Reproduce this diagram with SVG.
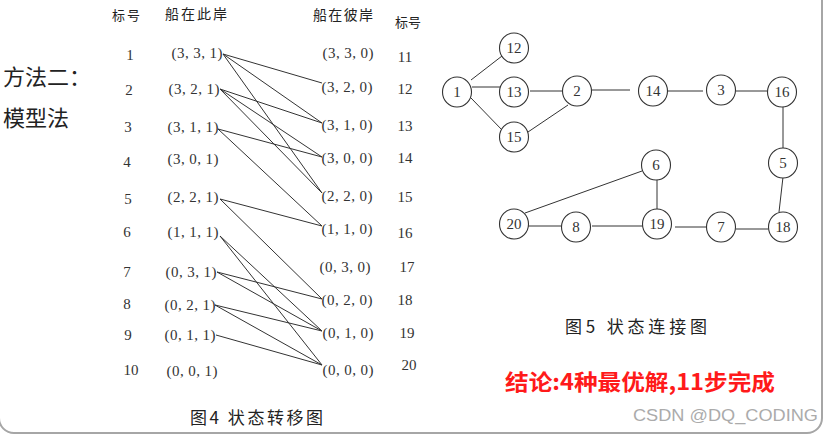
<svg xmlns="http://www.w3.org/2000/svg" width="834" height="436" viewBox="0 0 834 436">
<style>
.cj{font-family:"Noto Sans CJK SC","Noto Sans",sans-serif;fill:#222}
.num{font-family:"Liberation Serif","DejaVu Serif",serif;font-size:15px;fill:#333;text-anchor:middle}
.st{font-family:"Liberation Serif","DejaVu Serif",serif;font-size:15px;fill:#333;text-anchor:middle}
.ln{stroke:#333;stroke-width:1;fill:none}
.nd{fill:#fff;stroke:#333;stroke-width:1.1}
.nt{font-family:"Liberation Serif","DejaVu Serif",serif;font-size:15px;fill:#333;text-anchor:middle}
</style>
<rect x="0" y="0" width="834" height="436" fill="#fff"/>
<rect x="-1" y="-30" width="823" height="463" rx="15" ry="15" fill="none" stroke="#a6a6a6" stroke-width="2"/>

<g id="left-title">
<text class="cj" x="3" y="85" font-size="22">方法二：</text>
<text class="cj" x="3" y="126" font-size="22">模型法</text>
</g>

<g id="table-headers">
<text class="cj" x="112" y="20" font-size="13" textLength="28" lengthAdjust="spacing">标号</text>
<text class="cj" x="165" y="19" font-size="14" textLength="62" lengthAdjust="spacing">船在此岸</text>
<text class="cj" x="313" y="20" font-size="14" textLength="60" lengthAdjust="spacing">船在彼岸</text>
<text class="cj" x="395" y="27" font-size="13" textLength="26" lengthAdjust="spacing">标号</text>
</g>

<g id="left-labels">
<text class="num" x="130" y="60">1</text>
<text class="num" x="129" y="95">2</text>
<text class="num" x="128" y="132">3</text>
<text class="num" x="127" y="167">4</text>
<text class="num" x="128" y="204">5</text>
<text class="num" x="127" y="237">6</text>
<text class="num" x="127" y="277">7</text>
<text class="num" x="127" y="309">8</text>
<text class="num" x="128" y="340">9</text>
<text class="num" x="131" y="375">10</text>
</g>

<g id="left-states">
<text class="st" x="197" y="58" textLength="51" lengthAdjust="spacing">(3, 3, 1)</text>
<text class="st" x="194" y="94" textLength="51" lengthAdjust="spacing">(3, 2, 1)</text>
<text class="st" x="193" y="132" textLength="51" lengthAdjust="spacing">(3, 1, 1)</text>
<text class="st" x="193" y="164" textLength="51" lengthAdjust="spacing">(3, 0, 1)</text>
<text class="st" x="193" y="202" textLength="51" lengthAdjust="spacing">(2, 2, 1)</text>
<text class="st" x="193" y="237" textLength="51" lengthAdjust="spacing">(1, 1, 1)</text>
<text class="st" x="191" y="277" textLength="51" lengthAdjust="spacing">(0, 3, 1)</text>
<text class="st" x="190" y="310" textLength="51" lengthAdjust="spacing">(0, 2, 1)</text>
<text class="st" x="190" y="340" textLength="51" lengthAdjust="spacing">(0, 1, 1)</text>
<text class="st" x="192" y="376" textLength="51" lengthAdjust="spacing">(0, 0, 1)</text>
</g>

<g id="right-states">
<text class="st" x="348" y="58" textLength="51" lengthAdjust="spacing">(3, 3, 0)</text>
<text class="st" x="347" y="92" textLength="51" lengthAdjust="spacing">(3, 2, 0)</text>
<text class="st" x="347" y="130" textLength="51" lengthAdjust="spacing">(3, 1, 0)</text>
<text class="st" x="347" y="163" textLength="51" lengthAdjust="spacing">(3, 0, 0)</text>
<text class="st" x="347" y="201" textLength="51" lengthAdjust="spacing">(2, 2, 0)</text>
<text class="st" x="347" y="234" textLength="51" lengthAdjust="spacing">(1, 1, 0)</text>
<text class="st" x="345" y="272" textLength="51" lengthAdjust="spacing">(0, 3, 0)</text>
<text class="st" x="347" y="305" textLength="51" lengthAdjust="spacing">(0, 2, 0)</text>
<text class="st" x="348" y="338" textLength="51" lengthAdjust="spacing">(0, 1, 0)</text>
<text class="st" x="348" y="375" textLength="51" lengthAdjust="spacing">(0, 0, 0)</text>
</g>

<g id="right-labels">
<text class="num" x="405" y="62">11</text>
<text class="num" x="405" y="94">12</text>
<text class="num" x="405" y="131">13</text>
<text class="num" x="405" y="163">14</text>
<text class="num" x="405" y="202">15</text>
<text class="num" x="405" y="238">16</text>
<text class="num" x="407" y="272">17</text>
<text class="num" x="405" y="305">18</text>
<text class="num" x="407" y="338">19</text>
<text class="num" x="409" y="370">20</text>
</g>

<g id="transition-connectors">
<line class="ln" x1="223" y1="54" x2="322" y2="83"/>
<line class="ln" x1="223" y1="54" x2="322" y2="123"/>
<line class="ln" x1="223" y1="54" x2="322" y2="193"/>
<line class="ln" x1="220" y1="89" x2="322" y2="123"/>
<line class="ln" x1="220" y1="89" x2="322" y2="157"/>
<line class="ln" x1="220" y1="89" x2="322" y2="193"/>
<line class="ln" x1="218" y1="129" x2="322" y2="157"/>
<line class="ln" x1="218" y1="129" x2="322" y2="226"/>
<line class="ln" x1="220" y1="199" x2="322" y2="226"/>
<line class="ln" x1="220" y1="199" x2="322" y2="299"/>
<line class="ln" x1="220" y1="236" x2="322" y2="331"/>
<line class="ln" x1="220" y1="236" x2="322" y2="365"/>
<line class="ln" x1="217" y1="272" x2="322" y2="299"/>
<line class="ln" x1="217" y1="272" x2="322" y2="331"/>
<line class="ln" x1="215" y1="305" x2="322" y2="331"/>
<line class="ln" x1="215" y1="305" x2="322" y2="365"/>
<line class="ln" x1="216" y1="335" x2="322" y2="365"/>
</g>

<g id="fig4-caption">
<text class="cj" x="190" y="424" font-size="17" textLength="133" lengthAdjust="spacing" fill="#333">图4 状态转移图</text>
</g>

<g id="graph-connectors">
<line class="ln" x1="471" y1="80" x2="502" y2="56"/>
<line class="ln" x1="472" y1="87" x2="500" y2="87"/>
<line class="ln" x1="471" y1="98" x2="503" y2="131"/>
<line class="ln" x1="530" y1="91" x2="562" y2="91"/>
<line class="ln" x1="528" y1="132" x2="568" y2="105"/>
<line class="ln" x1="592" y1="90" x2="630" y2="90"/>
<line class="ln" x1="668" y1="91" x2="703" y2="91"/>
<line class="ln" x1="736" y1="91" x2="767" y2="91"/>
<line class="ln" x1="783" y1="107" x2="783" y2="149"/>
<line class="ln" x1="783" y1="177" x2="779" y2="212"/>
<line class="ln" x1="736" y1="229" x2="768" y2="229"/>
<line class="ln" x1="675" y1="227" x2="707" y2="227"/>
<line class="ln" x1="592" y1="226" x2="643" y2="226"/>
<line class="ln" x1="528" y1="226" x2="561" y2="226" stroke-width="2" stroke="#555"/>
<line class="ln" x1="525" y1="213" x2="642" y2="171"/>
<line class="ln" x1="657" y1="180" x2="657" y2="209"/>
</g>

<g id="n1"><ellipse class="nd" cx="457" cy="92" rx="14.5" ry="15"/><text class="nt" x="457" y="97">1</text></g>
<g id="n12"><ellipse class="nd" cx="514" cy="48" rx="14.5" ry="15"/><text class="nt" x="514" y="53">12</text></g>
<g id="n13"><ellipse class="nd" cx="514" cy="92" rx="14.5" ry="15"/><text class="nt" x="514" y="97">13</text></g>
<g id="n15"><ellipse class="nd" cx="514" cy="137" rx="14.5" ry="15"/><text class="nt" x="514" y="142">15</text></g>
<g id="n2"><ellipse class="nd" cx="577" cy="91" rx="14.5" ry="15"/><text class="nt" x="577" y="96">2</text></g>
<g id="n14"><ellipse class="nd" cx="653" cy="91" rx="14.5" ry="15"/><text class="nt" x="653" y="96">14</text></g>
<g id="n3"><ellipse class="nd" cx="721" cy="90" rx="14.5" ry="15"/><text class="nt" x="721" y="95">3</text></g>
<g id="n16"><ellipse class="nd" cx="782" cy="92" rx="14.5" ry="15"/><text class="nt" x="782" y="97">16</text></g>
<g id="n5"><ellipse class="nd" cx="783" cy="163" rx="14.5" ry="15"/><text class="nt" x="783" y="168">5</text></g>
<g id="n18"><ellipse class="nd" cx="783" cy="227" rx="14.5" ry="15"/><text class="nt" x="783" y="232">18</text></g>
<g id="n7"><ellipse class="nd" cx="721" cy="227" rx="14.5" ry="15"/><text class="nt" x="721" y="232">7</text></g>
<g id="n19"><ellipse class="nd" cx="657" cy="224" rx="14.5" ry="15"/><text class="nt" x="657" y="229">19</text></g>
<g id="n8"><ellipse class="nd" cx="576" cy="227" rx="14.5" ry="15"/><text class="nt" x="576" y="232">8</text></g>
<g id="n20"><ellipse class="nd" cx="514" cy="224" rx="14.5" ry="15"/><text class="nt" x="514" y="229">20</text></g>
<g id="n6"><ellipse class="nd" cx="656" cy="165" rx="14.5" ry="15"/><text class="nt" x="656" y="170">6</text></g>

<g id="fig5-caption">
<text class="cj" x="565" y="333" font-size="17" textLength="142" lengthAdjust="spacing" fill="#333">图5  状态连接图</text>
</g>

<g id="conclusion">
<text x="505" y="390" font-family="Noto Sans CJK SC, Noto Sans, sans-serif" font-weight="bold" font-size="22" fill="#ff1a1a" textLength="270" lengthAdjust="spacingAndGlyphs">结论:4种最优解,11步完成</text>
</g>

<g id="watermark">
<text x="633" y="421" font-family="Liberation Sans, Arial, sans-serif" font-size="17" fill="#ababab" textLength="185" lengthAdjust="spacingAndGlyphs">CSDN @DQ_CODING</text>
</g>
</svg>
